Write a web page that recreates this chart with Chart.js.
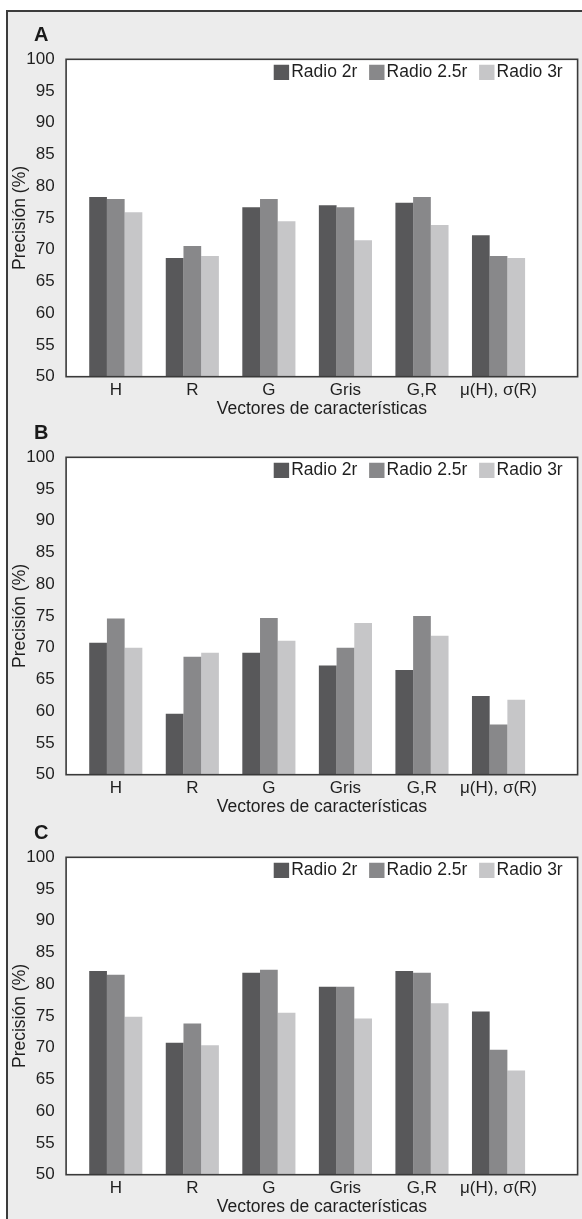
<!DOCTYPE html>
<html>
<head>
<meta charset="utf-8">
<title>Precisión por vector de características</title>
<script src="https://cdn.jsdelivr.net/npm/chart.js@4.4.1/dist/chart.umd.min.js"></script>
<style>
  html, body { margin: 0; padding: 0; background: #ffffff; }
  body { position: relative; width: 582px; height: 1219px; overflow: hidden; }
  #frame {
    position: absolute; left: 6px; top: 10px; width: 620px; height: 1260px;
    background: #ececec; border: 2px solid #3c3c3c;
  }
  .panel { position: absolute; left: 0; width: 582px; height: 420px; }
  .panel canvas { position: absolute; left: 0; top: 0; }
  .letter {
    position: absolute; left: 34px; top: 24px;
    font: bold 20px/20px "Liberation Sans", Arial, sans-serif; color: #1a1a1a;
  }
</style>
</head>
<body>
<div id="frame"></div>
<div id="panels"></div>

<script>
const categories = ["H", "R", "G", "Gris", "G,R", "μ(H), σ(R)"]
const seriesNames = ["Radio 2r", "Radio 2.5r", "Radio 3r"]
const seriesColors = ["#58585a", "#88888a", "#c6c6c8"]
const panelLetters = ["A", "B", "C"]

// Panel A
const radio2rA = [78.3, 68.7, 76.7, 77.0, 77.4, 72.3]
const radio25rA = [78.0, 70.6, 78.0, 76.7, 78.3, 69.0]
const radio3rA = [75.9, 69.0, 74.5, 71.5, 73.9, 68.7]

// Panel B
const radio2rB = [70.8, 59.6, 69.2, 67.2, 66.5, 62.4]
const radio25rB = [74.6, 68.6, 74.7, 70.0, 75.0, 57.9]
const radio3rB = [70.0, 69.2, 71.1, 73.9, 71.9, 61.8]

// Panel C
const radio2rC = [82.1, 70.8, 81.8, 79.6, 82.1, 75.7]
const radio25rC = [81.5, 73.8, 82.3, 79.6, 81.8, 69.7]
const radio3rC = [74.9, 70.4, 75.5, 74.6, 77.0, 66.4]

const yMin = 50
const yMax = 100
const yStep = 5

const panelSeries = [
  [radio2rA, radio25rA, radio3rA],
  [radio2rB, radio25rB, radio3rB],
  [radio2rC, radio25rC, radio3rC],
]
const panelTops = [0, 398, 798]

const textColor = "#1f1f1f"
Chart.defaults.font.family = '"Liberation Sans", Arial, sans-serif'
Chart.defaults.color = textColor

// white plot area with a dark frame round it
const plotBox = {
  id: "plotBox",
  beforeDraw(chart) {
    const { ctx, chartArea: a } = chart
    ctx.save()
    ctx.fillStyle = "#ffffff"
    ctx.fillRect(a.left, a.top, a.width, a.height)
    ctx.restore()
  },
  afterDatasetsDraw(chart) {
    const { ctx, chartArea: a } = chart
    ctx.save()
    ctx.strokeStyle = "#3a3a3a"
    ctx.lineWidth = 1.6
    ctx.strokeRect(a.left, a.top, a.width, a.height)
    ctx.restore()
  },
}

// move the legend inside the plot, top right
const legendInside = {
  id: "legendInside",
  afterLayout(chart) {
    const legend = chart.legend
    const top = chart.chartArea.top - 14.2
    legend.top = top
    legend.bottom = top + 50
    legend.left = 0
    legend.right = 581.2
  },
}

const holder = document.getElementById("panels")

panelSeries.forEach((series, p) => {
  const panel = document.createElement("div")
  panel.className = "panel"
  panel.style.top = panelTops[p] + "px"

  const canvas = document.createElement("canvas")
  canvas.width = 582
  canvas.height = 420
  panel.appendChild(canvas)

  const letter = document.createElement("div")
  letter.className = "letter"
  letter.textContent = panelLetters[p]
  panel.appendChild(letter)

  holder.appendChild(panel)

  new Chart(canvas.getContext("2d"), {
    type: "bar",
    data: {
      labels: categories.map((c, i) => i),
      datasets: series.map((values, s) => ({
        label: seriesNames[s],
        data: values,
        backgroundColor: seriesColors[s],
        borderWidth: 0,
      })),
    },
    options: {
      responsive: false,
      animation: false,
      devicePixelRatio: 1,
      categoryPercentage: 0.694,
      barPercentage: 1,
      layout: { padding: { top: 58.3, right: 4.4, bottom: 0, left: 0 } },
      scales: {
        x: {
          type: "linear",
          offset: false,
          min: -0.649,
          max: 6.033,
          afterBuildTicks: scale => {
            scale.ticks = categories.map((c, i) => ({ value: i }))
          },
          afterFit: scale => {
            scale.height = 43.3
          },
          grid: { display: false, drawTicks: false, offset: false },
          border: { display: false },
          ticks: {
            autoSkip: false,
            maxRotation: 0,
            minRotation: 0,
            padding: 3,
            color: textColor,
            font: { size: 17 },
            callback: value => categories[value],
          },
          title: {
            display: true,
            text: "Vectores de características",
            color: textColor,
            font: { size: 17.5 },
            padding: { top: 0, bottom: 0.6 },
          },
        },
        y: {
          min: yMin,
          max: yMax,
          afterFit: scale => {
            scale.width = 66.1
          },
          grid: { display: false, drawTicks: false },
          border: { display: false },
          ticks: {
            stepSize: yStep,
            padding: 11.4,
            color: textColor,
            font: { size: 17 },
          },
          title: {
            display: true,
            text: "Precisión (%)",
            color: textColor,
            font: { size: 17.5 },
            padding: { top: 10, bottom: 0 },
          },
        },
      },
      plugins: {
        legend: {
          position: "top",
          align: "end",
          maxHeight: 1,
          labels: {
            usePointStyle: true,
            pointStyle: "rect",
            boxWidth: 2,
            boxHeight: 15.4,
            padding: 18.5,
            color: textColor,
            font: { size: 17.5 },
          },
        },
        tooltip: { enabled: false },
      },
    },
    plugins: [plotBox, legendInside],
  })
})
</script>
</body>
</html>
